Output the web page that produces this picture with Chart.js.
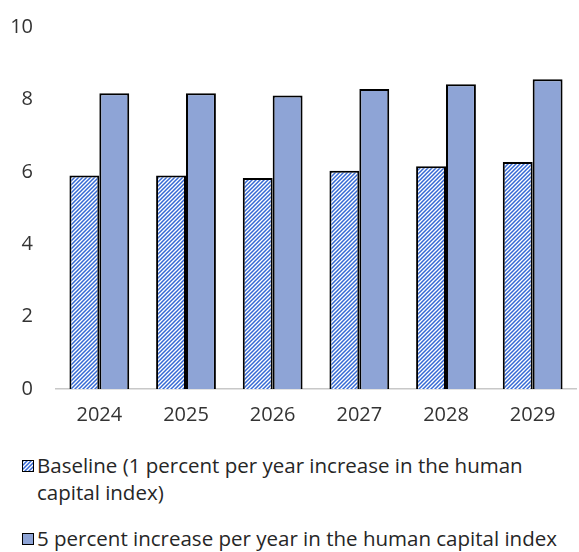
<!DOCTYPE html>
<html>
<head>
<meta charset="utf-8">
<script src="https://cdn.jsdelivr.net/npm/chart.js@4"></script>
<style>
  html, body { margin: 0; padding: 0; background: #fff; }
  #wrap { position: relative; width: 579px; height: 552px; font-family: "Open Sans", sans-serif; overflow: hidden; }
  #chart { position: absolute; left: 0; top: 0; }
  .legend { position: absolute; left: 22px; color: #262626; font-size: 20.5px; line-height: 27px; }
  .legend .row { display: flex; align-items: flex-start; }
  .legend .sw { width: 10px; height: 10px; border: 1.5px solid #000; margin: 8px 3px 0 0; flex: none; }
  .legend .txt { width: 545px; }
</style>
</head>
<body>
<div id="wrap">
  <canvas id="chart" width="579" height="430"></canvas>
  <div class="legend" style="top: 452px;">
    <div class="row"><div class="sw" id="sw1"></div><div class="txt">Baseline (1 percent per year increase in the human<br>capital index)</div></div>
  </div>
  <div class="legend" style="top: 525px;">
    <div class="row"><div class="sw" style="background:#8ea4d6"></div><div class="txt">5 percent increase per year in the human capital index</div></div>
  </div>
</div>
<script>
// Human capital index scenarios
const years = ['2024', '2025', '2026', '2027', '2028', '2029'];
const baseline = [5.90, 5.90, 5.83, 6.03, 6.15, 6.27];
const fivePercent = [8.17, 8.17, 8.11, 8.29, 8.42, 8.56];
const yTicks = [0, 2, 4, 6, 8, 10];

const COLORS = {
  stripe: '#3569d4',
  fill: '#8ea4d6',
  border: '#000',
  axis: '#c8c8c8',
  text: '#333'
};

// Diagonal stripe pattern for the baseline bars
function makeStripes() {
  const c = document.createElement('canvas');
  c.width = 4; c.height = 4;
  const g = c.getContext('2d');
  g.fillStyle = '#fff';
  g.fillRect(0, 0, 4, 4);
  g.strokeStyle = COLORS.stripe;
  g.lineWidth = 1.5;
  g.beginPath();
  g.moveTo(-1, 5); g.lineTo(5, -1);
  g.moveTo(-1, 1); g.lineTo(1, -1);
  g.moveTo(3, 5); g.lineTo(5, 3);
  g.stroke();
  return c;
}

const stripeTile = makeStripes();
const ctx = document.getElementById('chart').getContext('2d');
const stripes = ctx.createPattern(stripeTile, 'repeat');
document.getElementById('sw1').style.background = 'url(' + stripeTile.toDataURL() + ')';

new Chart(ctx, {
  type: 'bar',
  data: {
    labels: years,
    datasets: [{
      label: 'Baseline (1 percent per year increase in the human capital index)',
      data: baseline,
      backgroundColor: stripes,
      borderColor: COLORS.border,
      borderWidth: 2,
      borderSkipped: 'bottom'
    }, {
      label: '5 percent increase per year in the human capital index',
      data: fivePercent,
      backgroundColor: COLORS.fill,
      borderColor: COLORS.border,
      borderWidth: 2,
      borderSkipped: 'bottom'
    }]
  },
  options: {
    responsive: false,
    animation: false,
    layout: { padding: { top: 4, right: 3, bottom: 0, left: 0 } },
    datasets: { bar: { categoryPercentage: 0.69, barPercentage: 1.0 } },
    plugins: {
      legend: { display: false },
      tooltip: { enabled: false }
    },
    scales: {
      x: {
        grid: { display: false },
        border: { color: COLORS.axis, width: 1.5 },
        afterFit: axis => { axis.height = 41; },
        ticks: { color: COLORS.text, font: { family: 'Open Sans', size: 20 }, padding: 6 }
      },
      y: {
        min: 0,
        max: 10,
        afterBuildTicks: axis => { axis.ticks = yTicks.map(v => ({ value: v })); },
        afterFit: axis => { axis.width = 56; },
        grid: { display: false },
        border: { display: false },
        ticks: { color: COLORS.text, font: { family: 'Open Sans', size: 20 }, padding: 15 }
      }
    }
  }
});
</script>
</body>
</html>
